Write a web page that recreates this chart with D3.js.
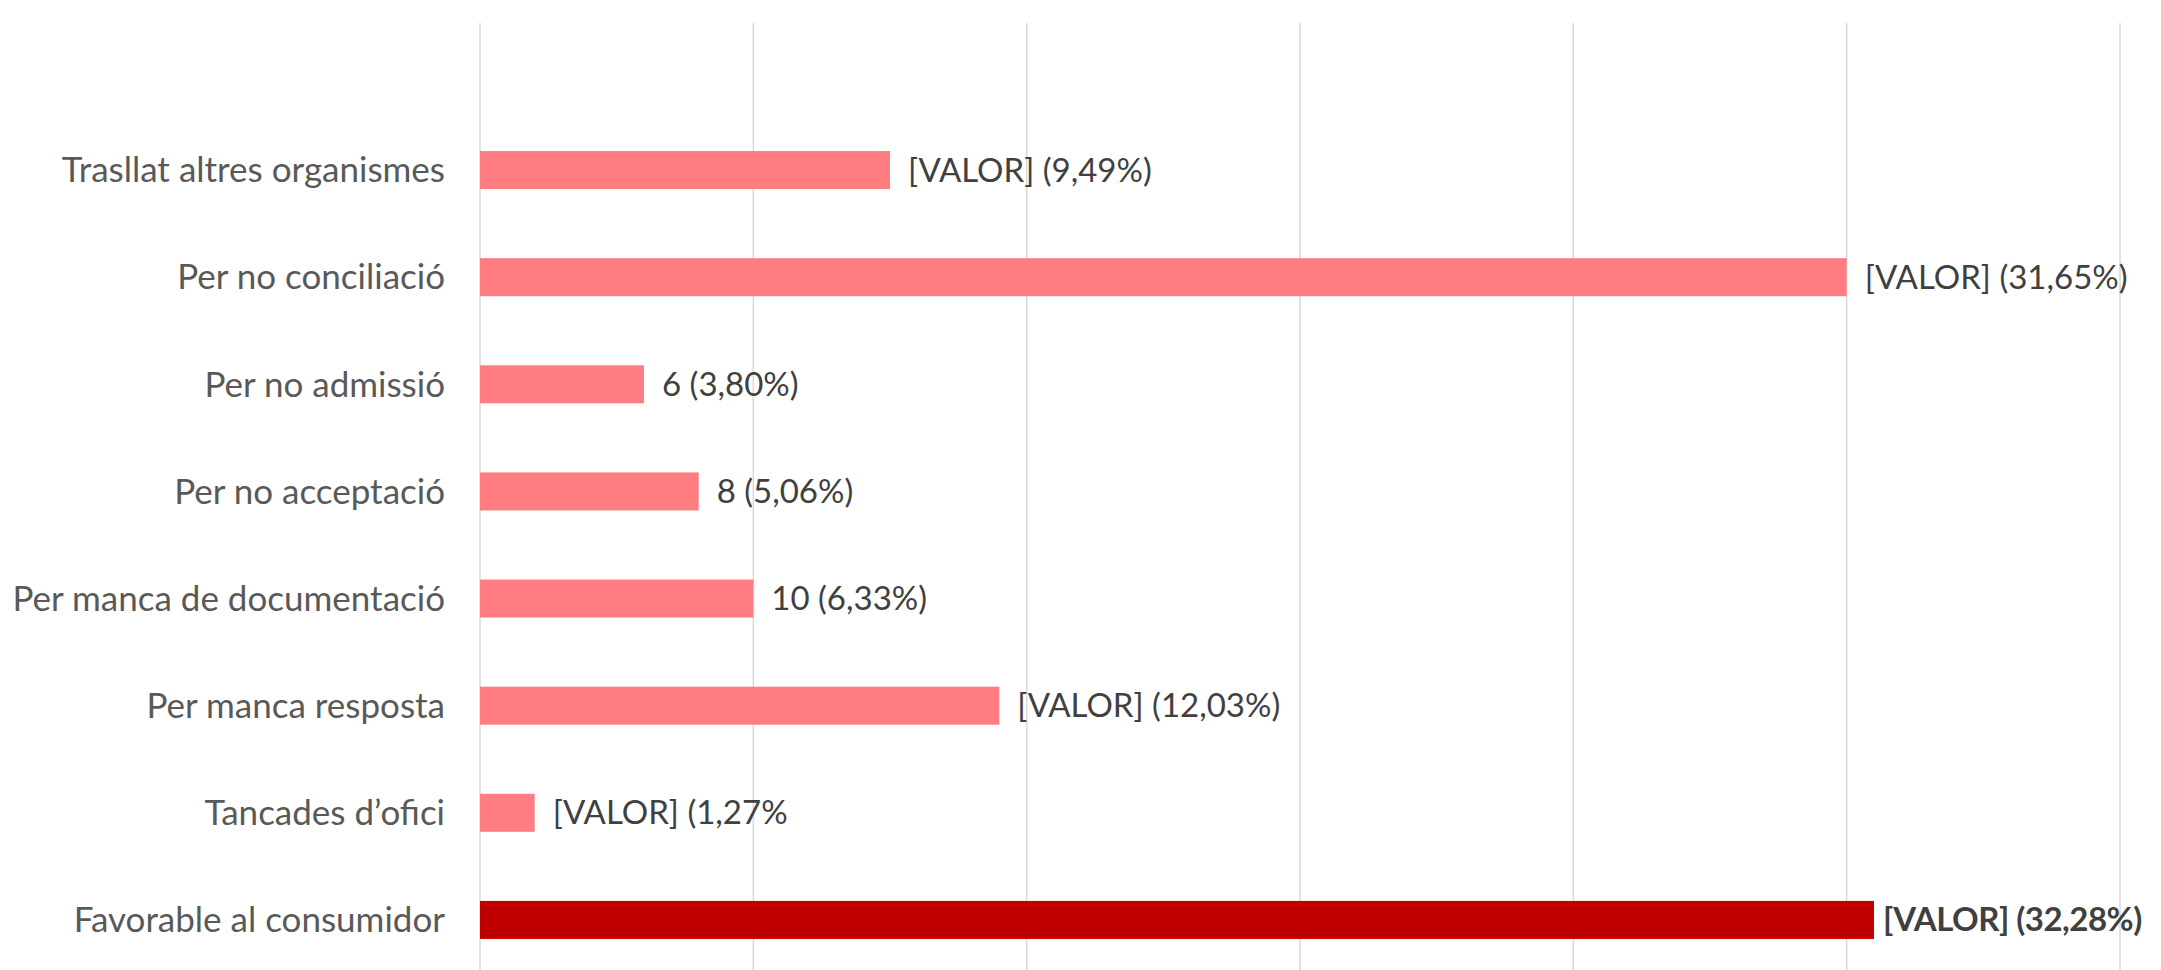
<!DOCTYPE html>
<meta charset="utf-8">
<head>
	<title>Tancament d'expedients</title>
</head>

<style>

body{
	margin: 0;
	background-color: #fff;
}

svg{
	display: block;
	font-family: Lato, "Open Sans", sans-serif;
}

.grid line{
	stroke: #d9d9d9;
	stroke-width: 1.5;
}

.cat{
	fill: #595959;
	font-size: 35px;
}

.lbl{
	fill: #404040;
	font-size: 33px;
}

</style>

<body>

<svg class="chart" width="2161" height="970"></svg>

<script src="https://cdnjs.cloudflare.com/ajax/libs/d3/7.8.5/d3.min.js"></script>
<script>

// dades
var categories = [
	"Trasllat altres organismes",
	"Per no conciliació",
	"Per no admissió",
	"Per no acceptació",
	"Per manca de documentació",
	"Per manca resposta",
	"Tancades d’ofici",
	"Favorable al consumidor"
];

var values = [15, 50, 6, 8, 10, 19, 2, 51];

var labels = [
	"[VALOR] (9,49%)",
	"[VALOR] (31,65%)",
	"6 (3,80%)",
	"8 (5,06%)",
	"10 (6,33%)",
	"[VALOR] (12,03%)",
	"[VALOR] (1,27%",
	"[VALOR] (32,28%)"
];

var highlight = "Favorable al consumidor";

var xTicks = [0, 10, 20, 30, 40, 50, 60];

// escales
var x = d3.scaleLinear()
	.domain([0, 60])
	.range([480, 2120]);

var y = d3.scaleBand()
	.domain(categories)
	.range([116.5, 973.5])
	.paddingInner(0.645)
	.paddingOuter(0.3225);

var svg = d3.select('.chart');

// linies de graella
svg.append('g')
	.attr('class', 'grid')
	.selectAll('line')
	.data(xTicks)
	.enter()
	.append('line')
	.attr('x1', function(d){ return x(d); })
	.attr('x2', function(d){ return x(d); })
	.attr('y1', 23)
	.attr('y2', 970);

// barres
svg.append('g')
	.selectAll('rect')
	.data(categories)
	.enter()
	.append('rect')
	.attr('x', x(0))
	.attr('y', function(d){ return y(d); })
	.attr('width', function(d, i){ return x(values[i]) - x(0); })
	.attr('height', y.bandwidth())
	.attr('fill', function(d){ return d === highlight ? '#c00000' : '#ff7c80'; });

// eix de categories
var yAxis = d3.axisLeft(y).tickSize(0).tickPadding(35);
var gy = svg.append('g')
	.attr('transform', 'translate(' + x(0) + ',0)')
	.call(yAxis);
gy.select('.domain').remove();
gy.selectAll('text')
	.attr('class', 'cat')
	.attr('fill', null)
	.attr('dy', '0.35em')
	.style('font-family', 'Lato, "Open Sans", sans-serif');

// etiquetes de dades
svg.append('g')
	.selectAll('text')
	.data(categories)
	.enter()
	.append('text')
	.attr('class', 'lbl')
	.attr('x', function(d, i){ return x(values[i]) + (d === highlight ? 9 : 18); })
	.attr('y', function(d){ return y(d) + y.bandwidth() / 2; })
	.attr('dy', '0.35em')
	.style('font-weight', function(d){ return d === highlight ? 'bold' : null; })
	.style('letter-spacing', function(d){ return d === highlight ? '-0.5px' : null; })
	.text(function(d, i){ return labels[i]; });

</script>

</body>
</html>
